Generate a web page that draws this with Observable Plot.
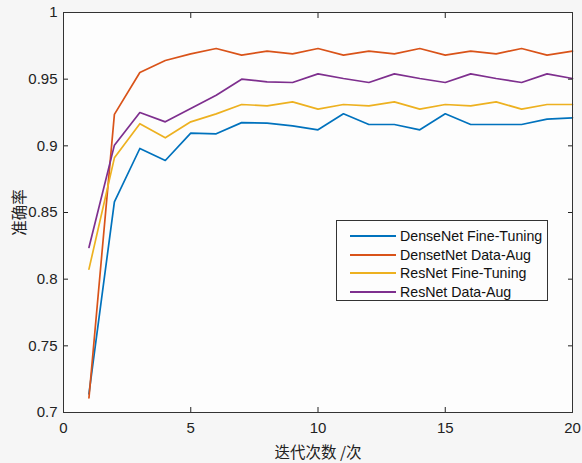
<!DOCTYPE html>
<html>
<head>
<meta charset="utf-8">
<script src="https://cdn.jsdelivr.net/npm/d3@7"></script>
<script src="https://cdn.jsdelivr.net/npm/@observablehq/plot@0.6"></script>
<style>
  html, body { margin: 0; padding: 0; background: #f6f6f6; }
  #wrap { position: relative; width: 582px; height: 463px; }
  #legend {
    position: absolute; left: 336px; top: 220px; width: 212px; height: 81px;
    border: 1px solid #333; background: #fdfdfd; box-sizing: border-box;
    font-family: "Liberation Sans", Arial, sans-serif; font-size: 14.2px; color: #111;
  }
  .row { position: absolute; left: 13px; height: 18px; display: flex; align-items: center; }
  .sw { width: 46px; height: 2px; margin-right: 4px; }
</style>
</head>
<body>
<div id="wrap"></div>
<script>
const epochs = [1,2,3,4,5,6,7,8,9,10,11,12,13,14,15,16,17,18,19,20];
const seriesNames = ["DenseNet Fine-Tuning", "DensetNet Data-Aug", "ResNet Fine-Tuning", "ResNet Data-Aug"];
const denseFT  = [0.714,0.858,0.898,0.889,0.9095,0.909,0.9174,0.917,0.915,0.912,0.924,0.916,0.916,0.912,0.924,0.916,0.916,0.916,0.920,0.921];
const denseAug = [0.711,0.9236,0.955,0.964,0.969,0.973,0.968,0.971,0.969,0.973,0.968,0.971,0.969,0.973,0.968,0.971,0.969,0.973,0.968,0.971];
const resFT    = [0.8075,0.891,0.9166,0.906,0.918,0.924,0.931,0.930,0.933,0.9275,0.931,0.930,0.933,0.9275,0.931,0.930,0.933,0.9275,0.931,0.931];
const resAug   = [0.8238,0.9005,0.925,0.918,0.928,0.938,0.950,0.948,0.9475,0.954,0.9505,0.9475,0.954,0.9505,0.9475,0.954,0.9505,0.9475,0.954,0.9505];
const colors = ["#0072BD", "#D95319", "#EDB120", "#7E2F8E"];
const xTicks = [0,5,10,15,20];
const yTicks = [0.7,0.75,0.8,0.85,0.9,0.95,1];

const allSeries = [denseFT, denseAug, resFT, resAug];
const data = [];
allSeries.forEach((vals, si) => vals.forEach((v, i) => data.push({epoch: epochs[i], acc: v, series: seriesNames[si]})));

const fmt = d => String(+d.toFixed(2));
const font = "'Liberation Sans', Arial, sans-serif";

const chart = Plot.plot({
  width: 582, height: 463,
  marginLeft: 63, marginRight: 10, marginTop: 12, marginBottom: 51,
  style: {background: "#f6f6f6", fontFamily: font, fontSize: "14px", color: "#222"},
  x: {domain: [0, 20]},
  y: {domain: [0.7, 1]},
  color: {domain: seriesNames, range: colors},
  marks: [
    Plot.frame({fill: "#fdfdfd", stroke: "none"}),
    Plot.line(data, {x: "epoch", y: "acc", z: "series", stroke: "series", strokeWidth: 1.7}),
    Plot.axisX({anchor: "bottom", ticks: xTicks, tickSize: 0, tickPadding: 10, tickFormat: fmt, fontSize: 15,
      label: "迭代次数 /次", labelAnchor: "center", labelArrow: "none", labelOffset: 45}),
    Plot.axisX({anchor: "bottom", ticks: xTicks, tickSize: -5, tickFormat: () => "", label: null}),
    Plot.axisX({anchor: "top", ticks: xTicks, tickSize: -5, tickFormat: () => "", label: null}),
    Plot.axisY({anchor: "left", ticks: yTicks, tickSize: 0, tickPadding: 6, tickFormat: fmt, fontSize: 15,
      label: "准确率", labelAnchor: "center", labelArrow: "none", labelOffset: 50}),
    Plot.axisY({anchor: "left", ticks: yTicks, tickSize: -5, tickFormat: () => "", label: null}),
    Plot.axisY({anchor: "right", ticks: yTicks, tickSize: -5, tickFormat: () => "", label: null}),
    Plot.frame({stroke: "#333", strokeWidth: 1})
  ]
});
chart.querySelectorAll("text").forEach(t => {
  if (/[\u4e00-\u9fff]/.test(t.textContent)) {
    t.style.fontFamily = "'Noto Sans CJK SC', sans-serif";
    t.style.fontSize = "15.5px";
  }
});
const wrap = document.getElementById("wrap");
wrap.appendChild(chart);

const legend = document.createElement("div");
legend.id = "legend";
seriesNames.forEach((name, i) => {
  const row = document.createElement("div");
  row.className = "row";
  row.style.top = (6 + i * 18.5) + "px";
  const sw = document.createElement("div");
  sw.className = "sw";
  sw.style.background = colors[i];
  const label = document.createElement("span");
  label.textContent = name;
  row.appendChild(sw); row.appendChild(label);
  legend.appendChild(row);
});
wrap.appendChild(legend);
</script>
</body>
</html>
